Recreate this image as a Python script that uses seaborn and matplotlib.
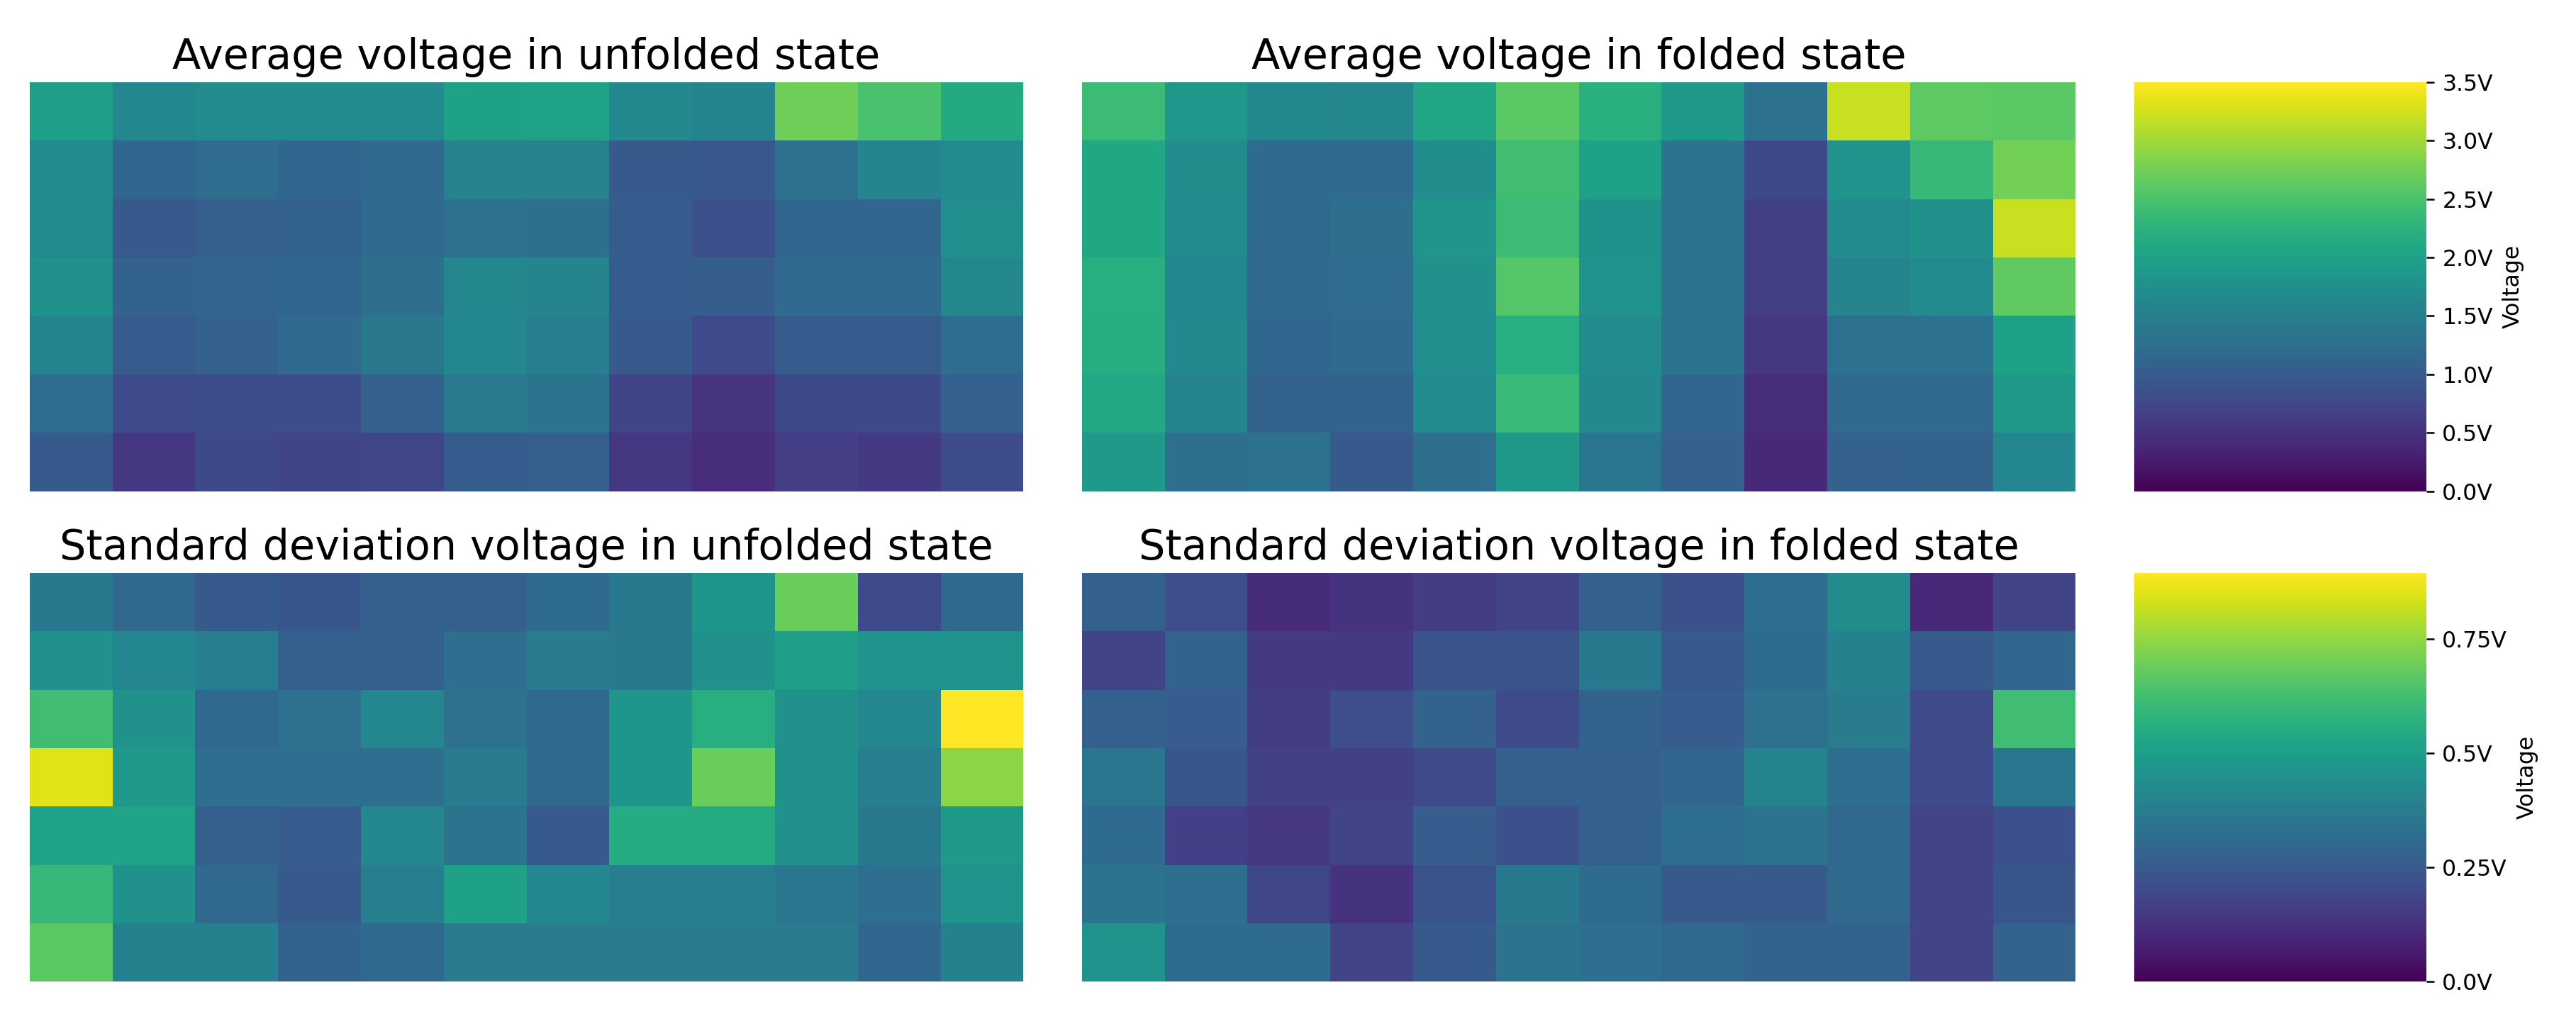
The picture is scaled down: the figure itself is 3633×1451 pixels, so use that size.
import matplotlib
matplotlib.use('Agg')
import matplotlib.pyplot as plt
from matplotlib.ticker import FuncFormatter, MultipleLocator
import numpy as np
import seaborn as sns

# mean voltage per sensor cell (7 rows x 12 cols)
avg_unfolded = [
    [1.95, 1.60, 1.68, 1.68, 1.68, 2.00, 2.02, 1.65, 1.58, 2.73, 2.50, 2.12],
    [1.68, 1.15, 1.22, 1.15, 1.20, 1.55, 1.55, 0.98, 0.95, 1.32, 1.58, 1.68],
    [1.68, 0.98, 1.05, 1.10, 1.20, 1.30, 1.28, 1.00, 0.85, 1.15, 1.15, 1.73],
    [1.75, 1.10, 1.12, 1.15, 1.27, 1.62, 1.58, 1.00, 1.03, 1.20, 1.20, 1.62],
    [1.57, 1.00, 1.07, 1.20, 1.40, 1.60, 1.48, 0.97, 0.78, 1.00, 1.00, 1.22],
    [1.22, 0.78, 0.82, 0.82, 1.07, 1.43, 1.35, 0.72, 0.53, 0.77, 0.77, 1.08],
    [0.98, 0.57, 0.77, 0.72, 0.75, 1.00, 1.05, 0.55, 0.45, 0.63, 0.60, 0.80],
]

avg_folded = [
    [2.38, 1.87, 1.65, 1.62, 2.07, 2.60, 2.22, 1.88, 1.30, 3.20, 2.63, 2.60],
    [2.08, 1.70, 1.20, 1.20, 1.72, 2.43, 2.00, 1.35, 0.77, 1.80, 2.35, 2.75],
    [2.08, 1.68, 1.18, 1.27, 1.82, 2.38, 1.78, 1.33, 0.65, 1.68, 1.75, 3.20],
    [2.20, 1.60, 1.18, 1.23, 1.75, 2.57, 1.80, 1.33, 0.65, 1.58, 1.68, 2.65],
    [2.18, 1.65, 1.15, 1.20, 1.73, 2.20, 1.68, 1.33, 0.55, 1.30, 1.32, 2.00],
    [2.10, 1.58, 1.10, 1.10, 1.68, 2.36, 1.65, 1.15, 0.45, 1.20, 1.20, 1.90],
    [1.88, 1.28, 1.30, 0.98, 1.27, 1.90, 1.38, 1.08, 0.40, 1.08, 1.10, 1.60],
]

std_unfolded = [
    [0.36, 0.30, 0.25, 0.24, 0.27, 0.27, 0.31, 0.36, 0.47, 0.69, 0.20, 0.30],
    [0.45, 0.41, 0.38, 0.27, 0.27, 0.32, 0.37, 0.36, 0.45, 0.50, 0.46, 0.46],
    [0.62, 0.45, 0.30, 0.33, 0.41, 0.33, 0.30, 0.47, 0.56, 0.45, 0.41, 0.894],
    [0.85, 0.48, 0.32, 0.32, 0.32, 0.37, 0.30, 0.47, 0.69, 0.45, 0.38, 0.74],
    [0.52, 0.52, 0.27, 0.26, 0.41, 0.34, 0.25, 0.55, 0.55, 0.45, 0.36, 0.48],
    [0.60, 0.45, 0.30, 0.25, 0.38, 0.51, 0.41, 0.38, 0.38, 0.35, 0.32, 0.46],
    [0.67, 0.39, 0.39, 0.28, 0.30, 0.37, 0.37, 0.37, 0.37, 0.37, 0.29, 0.39],
]

std_folded = [
    [0.27, 0.21, 0.11, 0.13, 0.16, 0.18, 0.27, 0.22, 0.32, 0.43, 0.10, 0.18],
    [0.18, 0.28, 0.15, 0.15, 0.23, 0.23, 0.36, 0.25, 0.31, 0.39, 0.25, 0.29],
    [0.27, 0.26, 0.16, 0.21, 0.28, 0.20, 0.28, 0.26, 0.33, 0.37, 0.20, 0.62],
    [0.35, 0.24, 0.17, 0.17, 0.20, 0.27, 0.27, 0.29, 0.40, 0.32, 0.20, 0.35],
    [0.31, 0.17, 0.14, 0.18, 0.26, 0.22, 0.27, 0.32, 0.34, 0.30, 0.18, 0.22],
    [0.34, 0.32, 0.19, 0.13, 0.23, 0.36, 0.31, 0.25, 0.25, 0.30, 0.18, 0.24],
    [0.46, 0.31, 0.31, 0.18, 0.25, 0.34, 0.32, 0.30, 0.28, 0.28, 0.18, 0.28],
]

volt_fmt = FuncFormatter(lambda x, pos: f'{x}V')
title_size = 18.7

fig = plt.figure(figsize=(3633 / 227, 1451 / 227), dpi=227)
gs = fig.add_gridspec(2, 3, width_ratios=[605, 605, 178],
                      left=0.0115, right=0.942, top=0.92, bottom=0.046,
                      wspace=0.077, hspace=0.2)

# top row: averages
avg_max = 3.5
ax = fig.add_subplot(gs[0, 0])
sns.heatmap(np.array(avg_unfolded), ax=ax, cmap='viridis', vmin=0, vmax=avg_max,
            xticklabels=False, yticklabels=False, cbar=False)
ax.set_title('Average voltage in unfolded state', fontsize=title_size)

ax = fig.add_subplot(gs[0, 1])
cax = fig.add_subplot(gs[0, 2])
sns.heatmap(np.array(avg_folded), ax=ax, cmap='viridis', vmin=0, vmax=avg_max,
            xticklabels=False, yticklabels=False, cbar_ax=cax,
            cbar_kws={'label': 'Voltage', 'format': volt_fmt,
                      'ticks': MultipleLocator(0.5)})
ax.set_title('Average voltage in folded state', fontsize=title_size)

# bottom row: standard deviations
std_max = max(np.max(std_unfolded), np.max(std_folded))
ax = fig.add_subplot(gs[1, 0])
sns.heatmap(np.array(std_unfolded), ax=ax, cmap='viridis', vmin=0, vmax=std_max,
            xticklabels=False, yticklabels=False, cbar=False)
ax.set_title('Standard deviation voltage in unfolded state', fontsize=title_size)

ax = fig.add_subplot(gs[1, 1])
cax = fig.add_subplot(gs[1, 2])
sns.heatmap(np.array(std_folded), ax=ax, cmap='viridis', vmin=0, vmax=std_max,
            xticklabels=False, yticklabels=False, cbar_ax=cax,
            cbar_kws={'label': 'Voltage', 'format': volt_fmt,
                      'ticks': MultipleLocator(0.25)})
ax.set_title('Standard deviation voltage in folded state', fontsize=title_size)

fig.savefig('out.png', dpi=227)
